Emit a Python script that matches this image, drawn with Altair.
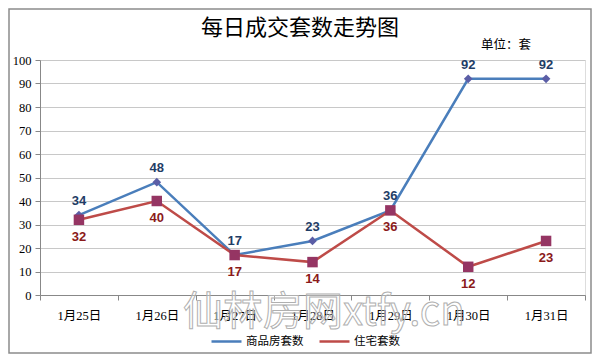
import altair as alt
import pandas as pd

dates = ["1月25日", "1月26日", "1月27日", "1月28日", "1月29日", "1月30日", "1月31日"]
commercial = [34, 48, 17, 23, 36, 92, 92]
residential = [32, 40, 17, 14, 36, 12, 23]
series_names = ["商品房套数", "住宅套数"]

df = pd.concat([
    pd.DataFrame({"date": dates, "value": commercial, "series": series_names[0]}),
    pd.DataFrame({"date": dates, "value": residential, "series": series_names[1]}),
])
df_c = df[df["series"] == series_names[0]]
df_r = df[df["series"] == series_names[1]]

W, H = 545, 235
FONT_CJK = "Noto Sans CJK SC"

x = alt.X("date:N", sort=dates, title=None,
          scale=alt.Scale(paddingInner=0, paddingOuter=0),
          axis=alt.Axis(labelAngle=0, tickBand="extent", domainColor="#888888",
                        tickColor="#888888", tickSize=5, labelFont="Liberation Serif, " + FONT_CJK,
                        labelFontSize=12.5, labelColor="#000000", labelPadding=9, grid=False))
y = alt.Y("value:Q", title=None,
          scale=alt.Scale(domain=[0, 100], nice=False),
          axis=alt.Axis(values=list(range(0, 101, 10)), domainColor="#888888", tickColor="#888888",
                        tickSize=5, gridColor="#c8c8c8", labelFont="Liberation Serif",
                        labelFontSize=12.5, labelColor="#000000", labelPadding=4))

line_colors = alt.Scale(domain=series_names, range=["#4a7ebb", "#be4b48"])

lines = alt.Chart(df).mark_line(strokeWidth=2.5).encode(
    x=x, y=y,
    color=alt.Color("series:N", scale=line_colors, sort=series_names,
                    legend=alt.Legend(title=None, orient="none", direction="horizontal",
                                      legendX=170, legendY=H + 30,
                                      symbolType="stroke", symbolStrokeWidth=2.5,
                                      symbolSize=900, labelFont=FONT_CJK, labelFontSize=11.5,
                                      columnPadding=10, labelOffset=3,
                                      labelColor="#000000", symbolOffset=0)),
)

points_c = alt.Chart(df_c).mark_point(filled=True, opacity=1, shape="diamond",
                                      size=75, color="#5b5ea6").encode(x=x, y=y)
points_r = alt.Chart(df_r).mark_point(filled=True, opacity=1, shape="square",
                                      size=110, color="#953563").encode(x=x, y=y)

labels_c = alt.Chart(df_c).mark_text(dy=-14, fontWeight="bold", fontSize=13,
                                     font="Liberation Sans", color="#1f3d66").encode(
    x=x, y=y, text="value:Q")
labels_r = alt.Chart(df_r).mark_text(dy=17, fontWeight="bold", fontSize=13,
                                     font="Liberation Sans", color="#8b1a1a").encode(
    x=x, y=y, text="value:Q")

title = alt.Chart(pd.DataFrame({"t": ["每日成交套数走势图"]})).mark_text(
    fontSize=22, font=FONT_CJK, color="#000000").encode(
    text="t:N", x=alt.value(260), y=alt.value(-32))

unit = alt.Chart(pd.DataFrame({"t": ["单位：套"]})).mark_text(
    fontSize=12.5, font=FONT_CJK, color="#000000").encode(
    text="t:N", x=alt.value(466), y=alt.value(-15))

watermark = alt.Chart(pd.DataFrame({"t": ["仙林房网xtfy.cn"]})).mark_text(
    fontSize=40, font=FONT_CJK, fill="white", fillOpacity=0.3, stroke="#b0b0b0",
    strokeWidth=1, align="left").encode(
    text="t:N", x=alt.value(143), y=alt.value(H + 18))

frame = alt.Chart(pd.DataFrame({"a": [0]})).mark_rect(
    fill=None, stroke="#8c8c8c", strokeWidth=1.5).encode(
    x=alt.value(-31), x2=alt.value(W + 6), y=alt.value(-51), y2=alt.value(H + 58))

chart = alt.layer(lines, points_c, points_r, labels_c, labels_r, watermark, title, unit, frame).properties(
    width=W, height=H,
    autosize=alt.AutoSizeParams(type="none"),
    padding={"left": 32, "top": 52, "right": 7, "bottom": 59},
).configure_view(stroke=None).configure(background="white")

chart.save("out.html", embed_options={"renderer": "svg", "actions": False})
